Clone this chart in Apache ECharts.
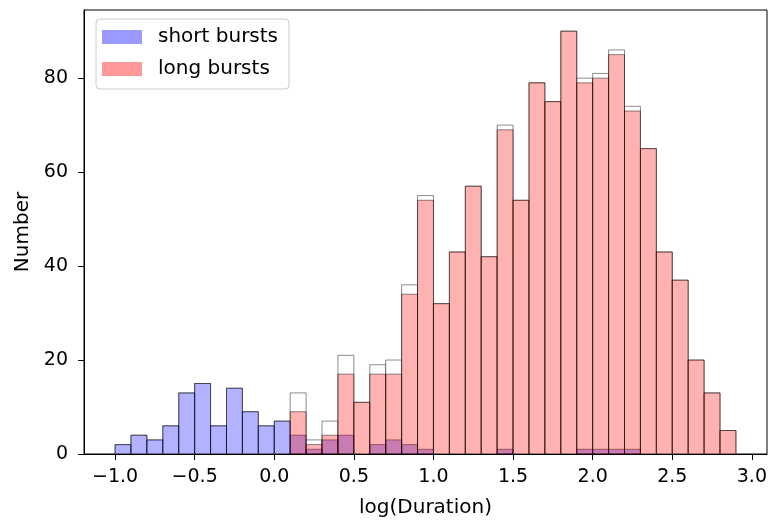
<!DOCTYPE html>
<html><head><meta charset="utf-8">
<script src="https://cdn.jsdelivr.net/npm/echarts@6/dist/echarts.min.js"></script>
<style>html,body{margin:0;padding:0;background:#fff}#c{width:768px;height:520px}</style>
</head><body><div id="c"></div>
<script>
// Histogram bin edges (log Duration)
const binEdges = [-1.0,-0.9,-0.8,-0.7,-0.6,-0.5,-0.4,-0.3,-0.2,-0.1,0.0,0.1,0.2,0.3,0.4,0.5,0.6,0.7,0.8,0.9,1.0,1.1,1.2,1.3,1.4,1.5,1.6,1.7,1.8,1.9,2.0,2.1,2.2,2.3,2.4,2.5,2.6,2.7,2.8,2.9];
// counts per bin
const shortBursts = [2,4,3,6,13,15,6,14,9,6,7,4,1,3,4,0,2,3,2,1,0,0,0,0,1,0,0,0,0,1,1,1,1,0,0,0,0,0,0];
const longBursts  = [0,0,0,0,0,0,0,0,0,0,0,9,2,4,17,11,17,17,34,54,32,43,57,42,69,54,79,75,90,79,80,85,73,65,43,37,20,13,5];
const allBursts   = [2,4,3,6,13,15,6,14,9,6,7,13,3,7,21,11,19,20,36,55,32,43,57,42,70,54,79,75,90,80,81,86,74,65,43,37,20,13,5];
// axis ticks
const xTicks = [-1.0,-0.5,0.0,0.5,1.0,1.5,2.0,2.5,3.0];
const yTicks = [0,20,40,60,80];

function toBins(counts){
  return counts.map((c,i)=>[binEdges[i], binEdges[i+1], c]);
}
function makeRender(fill, stroke){
  return function(params, api){
    const x0 = api.value(0), x1 = api.value(1), y = api.value(2);
    if (!y) return null;
    const p0 = api.coord([x0, y]);
    const p1 = api.coord([x1, 0]);
    return {type:'rect',
      shape:{x:p0[0], y:p0[1], width:p1[0]-p0[0], height:p1[1]-p0[1]},
      style:{fill:fill, stroke:stroke, lineWidth:1}};
  };
}
const FONT = 'DejaVu Sans';
const chart = echarts.init(document.getElementById('c'), null, {renderer:'canvas'});
chart.setOption({
  animation:false,
  backgroundColor:'#fff',
  grid:{left:84, top:10, right:1, bottom:66, containLabel:false, outerBoundsMode:'none',
    show:true, borderColor:'#000', borderWidth:1, backgroundColor:'transparent'},
  legend:{
    left:96, top:19, orient:'vertical',
    itemWidth:40, itemHeight:14, itemGap:10,
    padding:[7,11,9,6],
    backgroundColor:'rgba(255,255,255,0.8)', borderColor:'#cccccc', borderWidth:1, borderRadius:4,
    textStyle:{fontFamily:FONT, fontSize:20, color:'#000', lineHeight:20, padding:[2,0,0,11]},
    data:[
      {name:'short bursts', icon:'rect', itemStyle:{color:'#9999ff', borderWidth:0}},
      {name:'long bursts', icon:'rect', itemStyle:{color:'#ff9999', borderWidth:0}}
    ]
  },
  xAxis:{
    type:'value', min:-1.195, max:3.095,
    name:'log(Duration)', nameLocation:'middle', nameGap:44,
    nameTextStyle:{fontFamily:FONT, fontSize:20, color:'#000'},
    axisLine:{show:true, onZero:false, lineStyle:{color:'#000', width:1}},
    axisTick:{show:true, inside:false, length:6, lineStyle:{color:'#000'}, customValues:xTicks},
    axisLabel:{fontFamily:FONT, fontSize:19, color:'#000', margin:14, customValues:xTicks,
      formatter:v=>(v<0?'\u2212':'')+Math.abs(v).toFixed(1)},
    splitLine:{show:false}
  },
  yAxis:{
    type:'value', min:0, max:94.5,
    name:'Number', nameLocation:'middle', nameGap:50,
    nameTextStyle:{fontFamily:FONT, fontSize:20, color:'#000'},
    axisLine:{show:true, onZero:false, lineStyle:{color:'#000', width:1}},
    axisTick:{show:true, inside:false, length:6, lineStyle:{color:'#000'}, customValues:yTicks},
    axisLabel:{fontFamily:FONT, fontSize:19, color:'#000', margin:16, customValues:yTicks,
      formatter:v=>String(Math.round(v))},
    splitLine:{show:false}
  },
  series:[
    {type:'custom', name:'all bursts', data:toBins(allBursts), encode:{x:[0,1], y:2},
      renderItem:makeRender('#ffffff','rgba(0,0,0,0.45)'), silent:true},
    {type:'custom', name:'short bursts', data:toBins(shortBursts), encode:{x:[0,1], y:2},
      itemStyle:{color:'#9999ff'},
      renderItem:makeRender('rgba(0,0,255,0.3)','rgba(0,0,0,0.45)')},
    {type:'custom', name:'long bursts', data:toBins(longBursts), encode:{x:[0,1], y:2},
      itemStyle:{color:'#ff9999'},
      renderItem:makeRender('rgba(255,0,0,0.3)','rgba(0,0,0,0.45)')}
  ]
});
</script></body></html>
